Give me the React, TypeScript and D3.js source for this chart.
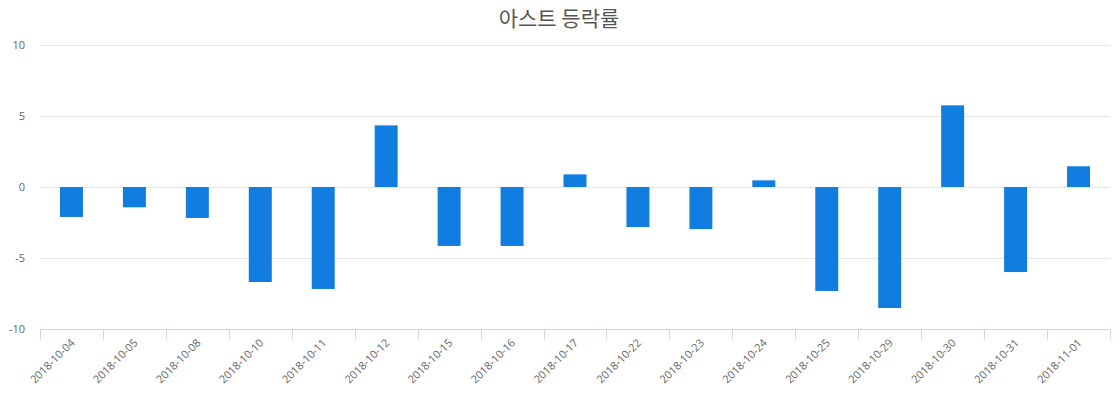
import { useEffect, useRef } from "react";
import * as d3 from "d3";

const dates = [
  "2018-10-04", "2018-10-05", "2018-10-08", "2018-10-10", "2018-10-11", "2018-10-12",
  "2018-10-15", "2018-10-16", "2018-10-17", "2018-10-22", "2018-10-23", "2018-10-24",
  "2018-10-25", "2018-10-29", "2018-10-30", "2018-10-31", "2018-11-01",
];
const changes = [
  -2.11, -1.43, -2.18, -6.69, -7.18, 4.34,
  -4.15, -4.15, 0.89, -2.82, -2.96, 0.47,
  -7.32, -8.52, 5.75, -5.99, 1.46,
];
const yTicks = [-10, -5, 0, 5, 10];
const title = "아스트 등락률";

const W = 1120;
const H = 400;
const margin = { top: 45, right: 10, bottom: 71, left: 40 };

export default function App() {
  const ref = useRef<SVGSVGElement | null>(null);

  useEffect(() => {
    document.body.style.margin = "0";
    const el = ref.current;
    if (!el) return;
    const svg = d3.select(el);
    svg.selectAll("*").remove();

    const x = d3.scaleBand().domain(dates).range([margin.left, W - margin.right]).paddingInner(0).paddingOuter(0);
    const y = d3.scaleLinear().domain([-10, 10]).range([H - margin.bottom, margin.top]);
    const barW = x.bandwidth() * 0.365;
    const font = "'Open Sans', 'Noto Sans CJK KR', sans-serif";

    svg
      .append("text")
      .attr("x", 559)
      .attr("y", 26)
      .attr("text-anchor", "middle")
      .attr("fill", "#555")
      .attr("font-size", 21)
      .attr("font-family", "'Noto Sans CJK KR', sans-serif")
      .text(title);

    svg
      .append("g")
      .selectAll("line")
      .data(yTicks.filter((t) => t !== -10))
      .join("line")
      .attr("x1", margin.left)
      .attr("x2", W - margin.right)
      .attr("y1", (d) => Math.round(y(d)) + 0.5)
      .attr("y2", (d) => Math.round(y(d)) + 0.5)
      .attr("stroke", "#e6e6e6");

    svg
      .append("g")
      .selectAll("text")
      .data(yTicks)
      .join("text")
      .attr("x", margin.left - 15)
      .attr("y", (d) => y(d) + 4)
      .attr("text-anchor", "end")
      .attr("fill", "#666")
      .attr("font-size", 11)
      .attr("font-family", font)
      .text((d) => String(d));

    svg
      .append("g")
      .selectAll("rect")
      .data(changes)
      .join("rect")
      .attr("x", (_, i) => (x(dates[i]) ?? 0) + (x.bandwidth() - barW) / 2)
      .attr("y", (d) => y(Math.max(0, d)))
      .attr("width", barW)
      .attr("height", (d) => Math.abs(y(d) - y(0)))
      .attr("fill", "#117de1");

    const axisY = Math.round(y(-10)) + 0.5;
    const axis = svg.append("g");
    axis
      .append("line")
      .attr("x1", margin.left)
      .attr("x2", W - margin.right)
      .attr("y1", axisY)
      .attr("y2", axisY)
      .attr("stroke", "#ccd6eb");
    const edges = [...dates.map((d) => x(d) ?? 0), W - margin.right];
    axis
      .selectAll("line.tick")
      .data(edges)
      .join("line")
      .attr("class", "tick")
      .attr("x1", (d) => Math.round(d) + 0.5)
      .attr("x2", (d) => Math.round(d) + 0.5)
      .attr("y1", axisY)
      .attr("y2", axisY + 10)
      .attr("stroke", "#ccd6eb");

    axis
      .selectAll("text")
      .data(dates)
      .join("text")
      .attr("transform", (d) => `translate(${(x(d) ?? 0) + x.bandwidth() / 2 + 4},${axisY + 14}) rotate(-45)`)
      .attr("text-anchor", "end")
      .attr("fill", "#666")
      .attr("font-size", 11)
      .attr("font-family", font)
      .text((d) => d);
  }, []);

  return <svg ref={ref} width={W} height={H} style={{ display: "block" }} />;
}
